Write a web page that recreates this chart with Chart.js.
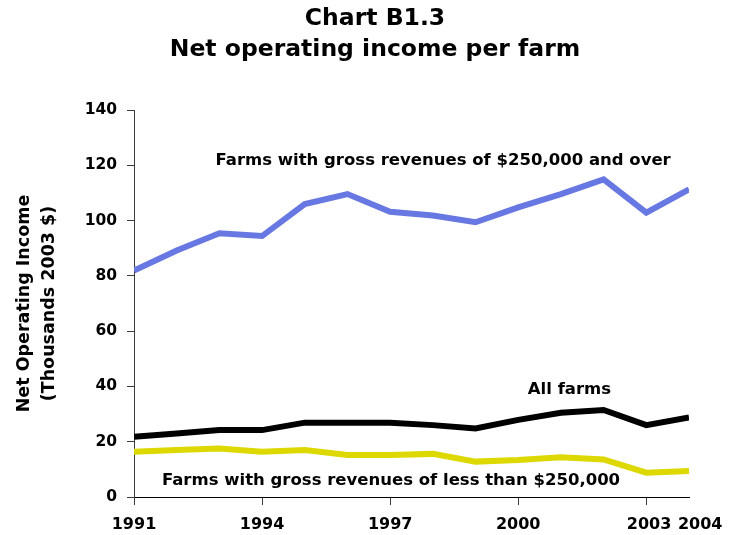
<!DOCTYPE html>
<html>
<head>
<meta charset="utf-8">
<script src="https://cdn.jsdelivr.net/npm/chart.js@4"></script>
<style>
  html, body { margin: 0; padding: 0; background: #fff; }
  #wrap { width: 739px; height: 535px; }
</style>
</head>
<body>
<div id="wrap"><canvas id="graph" width="739" height="535"></canvas></div>
<script>
const blue =   'rgb(104, 120, 226)'
const black =  'rgb(0, 0, 0)'
const yellow = 'rgb(221, 216, 0)'
const axisGrey = 'rgb(60, 60, 60)'

// years on the x axis and the ones that get a label
const years = [1991,1992,1993,1994,1995,1996,1997,1998,1999,2000,2001,2002,2003,2004]
const yearTicks = [1991,1994,1997,2000,2003,2004]

// thousands of 2003 dollars
const bigFarms =   [81.9,89.2,95.4,94.4,106,109.6,103.2,101.8,99.4,104.8,109.6,114.9,102.9,111.3]
const allFarms =   [21.8,23.0,24.2,24.2,26.9,26.9,26.9,26.0,24.8,27.9,30.5,31.5,26.0,28.8]
const smallFarms = [16.4,17.0,17.5,16.4,17.0,15.2,15.2,15.6,12.8,13.4,14.4,13.6,8.8,9.4]

const titleLines = ['Chart B1.3', 'Net operating income per farm']
const seriesNames = [
    'Farms with gross revenues of $250,000 and over',
    'All farms',
    'Farms with gross revenues of less than $250,000'
]
// where each name sits, in data units (year, value)
const nameSpots = [[1998.24, 121.7], [2001.2, 38.9], [1997.02, 6.0]]

const font = 'DejaVu Sans'

function toPoints(values) {
    return values.map((v, i) => ({x: years[i], y: v}))
}

//title on top + series names written straight onto the plot
const textPlugin = {
    id: 'chartTexts',
    afterDraw(chart) {
        const ctx = chart.ctx
        const xs = chart.scales.x
        const ys = chart.scales.y
        ctx.save()
        ctx.fillStyle = black
        ctx.textAlign = 'center'
        ctx.textBaseline = 'middle'
        ctx.font = 'bold 23.5px "' + font + '"'
        ctx.fillText(titleLines[0], 375, 19)
        ctx.fillText(titleLines[1], 375, 50)
        ctx.font = 'bold 16.5px "' + font + '"'
        seriesNames.forEach((name, i) => {
            ctx.fillText(name, xs.getPixelForValue(nameSpots[i][0]), ys.getPixelForValue(nameSpots[i][1]))
        })
        ctx.restore()
    }
}

const ctx = document.getElementById('graph')
new Chart(ctx, {
    type: 'line',
    data: {
        datasets: [
            {label: seriesNames[0], data: toPoints(bigFarms), borderColor: blue, borderWidth: 6, pointRadius: 0},
            {label: seriesNames[1], data: toPoints(allFarms), borderColor: black, borderWidth: 6, pointRadius: 0},
            {label: seriesNames[2], data: toPoints(smallFarms), borderColor: yellow, borderWidth: 6, pointRadius: 0}
        ]
    },
    options: {
        responsive: false,
        animation: false,
        layout: {padding: {top: 110, left: 0, right: 50, bottom: 0}},
        plugins: {
            legend: {display: false},
            tooltip: {enabled: false},
            title: {display: false}
        },
        scales: {
            x: {
                type: 'linear',
                min: 1991,
                max: 2004,
                afterBuildTicks: (scale) => { scale.ticks = yearTicks.map(v => ({value: v})) },
                afterFit: (scale) => { scale.height = 38 },
                ticks: {
                    color: black,
                    font: {family: font, size: 16, weight: 'bold'},
                    padding: 10,
                    maxRotation: 0,
                    autoSkip: false,
                    //2003 and 2004 sit close, the last one is pushed a bit right
                    callback: (v) => v === 2004 ? '    2004' : (v === 2003 ? ' 2003' : String(v))
                },
                grid: {
                    drawOnChartArea: false,
                    tickLength: 8,
                    color: (c) => (c.tick && c.tick.value === 2004) ? 'rgba(0,0,0,0)' : axisGrey
                },
                border: {color: black, width: 1}
            },
            y: {
                min: 0,
                max: 140,
                afterFit: (scale) => { scale.width = 134 },
                ticks: {
                    stepSize: 20,
                    color: black,
                    font: {family: font, size: 15.5, weight: 'bold'},
                    padding: 10
                },
                title: {
                    display: true,
                    text: ['Net Operating Income', '(Thousands 2003 $)'],
                    color: black,
                    font: {family: font, size: 17.5, weight: 'bold', lineHeight: 1.43},
                    padding: {top: 12, bottom: 0}
                },
                grid: {drawOnChartArea: false, tickLength: 7, color: axisGrey},
                border: {color: axisGrey, width: 1}
            }
        }
    },
    plugins: [textPlugin]
})
</script>
</body>
</html>
